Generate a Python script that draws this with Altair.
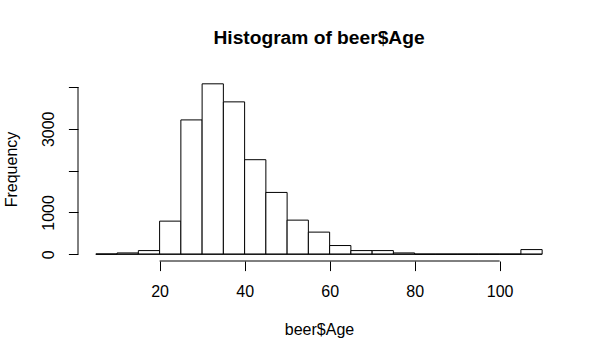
import altair as alt
import pandas as pd

# Histogram data (bin edges width 5, counts)
bin_starts = [5, 10, 15, 20, 25, 30, 35, 40, 45, 50, 55, 60, 65, 70, 75, 80, 85, 90, 95, 100, 105]
bin_width = 5
counts = [3, 30, 86, 791, 3213, 4077, 3645, 2261, 1478, 815, 528, 207, 86, 86, 30, 0, 0, 0, 0, 0, 110]

x_ticks = [20, 40, 60, 80, 100]
y_ticks = [0, 1000, 2000, 3000, 4000]

FONT = "Liberation Sans"

bars_df = pd.DataFrame({
    "start": bin_starts,
    "end": [b + bin_width for b in bin_starts],
    "count": counts,
})

# R-style axis ranges: 4% expansion
xr = (bin_starts[0], bin_starts[-1] + bin_width)
xpad = 0.04 * (xr[1] - xr[0])
x_dom = [xr[0] - xpad, xr[1] + xpad]
ymax = max(counts)
ypad = 0.04 * ymax
y_dom = [-ypad, ymax + ypad]

W, H = 482, 184

xscale = alt.Scale(domain=x_dom, nice=False, zero=False)
yscale = alt.Scale(domain=y_dom, nice=False, zero=False)

xaxis = alt.Axis(
    values=x_ticks, domain=False, grid=False,
    tickSize=9.6, tickColor="black", tickWidth=1,
    labelFont=FONT, labelFontSize=16, labelColor="black",
    labelPadding=26, labelBaseline="alphabetic", labelAngle=0,
    labelFlush=False, labelOverlap=False,
    title="beer$Age", titleFont=FONT, titleFontSize=16, titleFontWeight="normal",
    titleColor="black", titleBaseline="alphabetic", titleAlign="center",
    titleX=W / 2, titleY=73,
)
yaxis = alt.Axis(
    values=y_ticks, domain=False, grid=False, format="d",
    labelExpr="(datum.value == 2000 || datum.value == 4000) ? '' : datum.label",
    tickSize=9.6, tickColor="black", tickWidth=1,
    labelFont=FONT, labelFontSize=16, labelColor="black",
    labelPadding=14.8, labelBaseline="alphabetic", labelAlign="center", labelAngle=270,
    labelFlush=False, labelOverlap=False,
    title="Frequency", titleFont=FONT, titleFontSize=16, titleFontWeight="normal",
    titleColor="black", titleBaseline="alphabetic", titleAlign="center", titleAngle=270,
    titleX=-62, titleY=H / 2,
)

bars = alt.Chart(bars_df).mark_rect(fill="white", stroke="black", strokeWidth=1).encode(
    x=alt.X("start:Q", scale=xscale, axis=xaxis),
    x2="end:Q",
    y=alt.Y("count:Q", scale=yscale, axis=yaxis),
    y2=alt.Y2("zero:Q"),
).transform_calculate(zero="0")

# baseline across all bins
base_df = pd.DataFrame({"start": [xr[0]], "end": [xr[1]], "count": [0]})
baseline = alt.Chart(base_df).mark_rule(color="black", strokeWidth=1).encode(
    x=alt.X("start:Q", scale=xscale, axis=xaxis),
    x2="end:Q",
    y=alt.Y("count:Q", scale=yscale, axis=yaxis),
)

# R-style axis lines spanning the tick range only
xline_df = pd.DataFrame({"start": [x_ticks[0]], "end": [x_ticks[-1]], "count": [y_dom[0]]})
xline = alt.Chart(xline_df).mark_rule(color="black", strokeWidth=1).encode(
    x=alt.X("start:Q", scale=xscale, axis=xaxis),
    x2="end:Q",
    y=alt.Y("count:Q", scale=yscale, axis=yaxis),
)
yline_df = pd.DataFrame({"start": [x_dom[0]], "lo": [y_ticks[0]], "hi": [y_ticks[-1]]})
yline = alt.Chart(yline_df).mark_rule(color="black", strokeWidth=1).encode(
    x=alt.X("start:Q", scale=xscale, axis=xaxis),
    y=alt.Y("lo:Q", scale=yscale, axis=yaxis),
    y2="hi:Q",
)

chart = alt.layer(bars, baseline, xline, yline).properties(
    width=W, height=H,
    title=alt.Title(
        "Histogram of beer$Age", font=FONT, fontSize=19.2, fontWeight="bold",
        color="black", anchor="middle", frame="group", baseline="alphabetic", offset=13.5,
    ),
    autosize=alt.AutoSizeParams(type="none"),
    padding={"left": 78, "top": 77, "right": 40, "bottom": 97},
).configure(background="white").configure_view(stroke=None, strokeWidth=0)

chart.save("out.html", embed_options={"renderer": "svg", "actions": False})
